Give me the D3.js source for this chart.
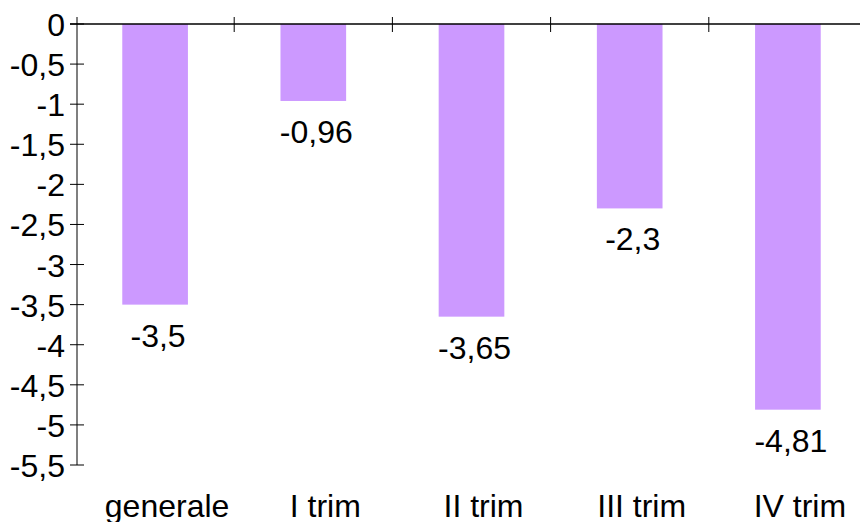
<!DOCTYPE html>
<html><head><meta charset="utf-8">
<script src="https://cdn.jsdelivr.net/npm/d3@7"></script>
<style>body{margin:0;background:#fff}svg{display:block}text{font-family:"Liberation Sans",Arial,sans-serif;fill:#000}</style>
</head><body>
<svg id="c" width="860" height="522"></svg>
<script>
const categories = ["generale", "I trim", "II trim", "III trim", "IV trim"];
const values = [-3.5, -0.96, -3.65, -2.3, -4.81];
const valueLabels = ["-3,5", "-0,96", "-3,65", "-2,3", "-4,81"];
const yTicks = [0, -0.5, -1, -1.5, -2, -2.5, -3, -3.5, -4, -4.5, -5, -5.5];
const yTickLabels = ["0", "-0,5", "-1", "-1,5", "-2", "-2,5", "-3", "-3,5", "-4", "-4,5", "-5", "-5,5"];

const svg = d3.select("#c");
const x = d3.scaleBand().domain(categories).range([76, 867]).padding(0);
const y = d3.scaleLinear().domain([0, -5.5]).range([24, 465]);
const fs = 32;
const barW = x.bandwidth() * 0.415;

// bars
svg.selectAll("rect.bar").data(values).enter().append("rect")
  .attr("x", (d, i) => x(categories[i]) + x.bandwidth() / 2 - barW / 2)
  .attr("y", y(0))
  .attr("width", barW)
  .attr("height", d => y(d) - y(0))
  .attr("fill", "#cc99ff");

// y axis line
svg.append("line").attr("x1", 77).attr("x2", 77).attr("y1", 17).attr("y2", y(-5.5))
  .attr("stroke", "#7f7f7f").attr("stroke-width", 2);
// y ticks
svg.selectAll("line.yt").data(yTicks).enter().append("line")
  .attr("x1", 70).attr("x2", 84).attr("y1", d => y(d)).attr("y2", d => y(d))
  .attr("stroke", "#000").attr("stroke-width", 1);
svg.selectAll("text.yl").data(yTicks).enter().append("text")
  .attr("x", 65).attr("y", d => y(d) + 12).attr("text-anchor", "end")
  .attr("font-size", fs).text((d, i) => yTickLabels[i]);

// x axis line at 0
svg.append("line").attr("x1", 70).attr("x2", 860).attr("y1", y(0)).attr("y2", y(0))
  .attr("stroke", "#000").attr("stroke-width", 1.5);
const bounds = categories.map(c => x(c) + x.bandwidth());
svg.selectAll("line.xt").data(bounds).enter().append("line")
  .attr("x1", d => d).attr("x2", d => d).attr("y1", y(0) - 7).attr("y2", y(0) + 8)
  .attr("stroke", "#000").attr("stroke-width", 1);

// value labels
svg.selectAll("text.vl").data(values).enter().append("text")
  .attr("x", (d, i) => x(categories[i]) + x.bandwidth() / 2 + 3)
  .attr("y", d => y(d) + 42).attr("text-anchor", "middle")
  .attr("font-size", fs).text((d, i) => valueLabels[i]);

// category labels
svg.selectAll("text.cl").data(categories).enter().append("text")
  .attr("x", d => x(d) + x.bandwidth() / 2 + 12)
  .attr("y", 517).attr("text-anchor", "middle")
  .attr("font-size", fs).text(d => d);
</script>
</body></html>
